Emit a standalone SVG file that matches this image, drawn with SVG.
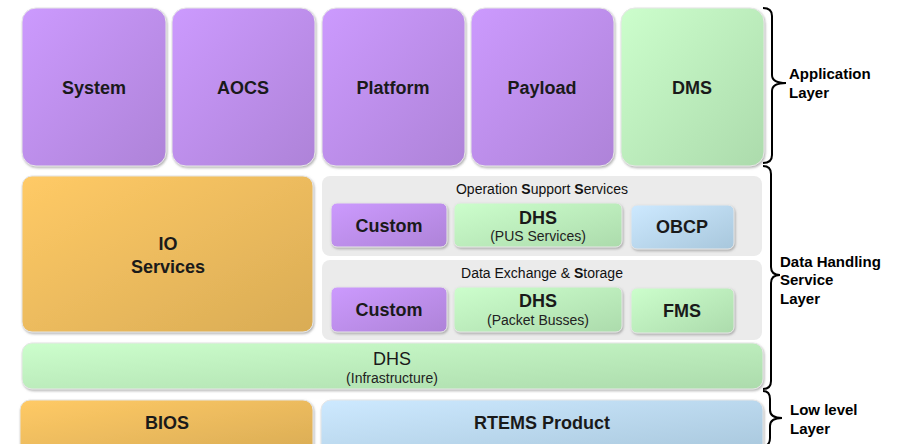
<svg xmlns="http://www.w3.org/2000/svg" width="903" height="444" viewBox="0 0 903 444">
  <defs>
    <linearGradient id="gPurple" x1="0" y1="0" x2="1" y2="1">
      <stop offset="0" stop-color="#cc9afe"/>
      <stop offset="1" stop-color="#ae83d8"/>
    </linearGradient>
    <linearGradient id="gGreen" x1="0" y1="0" x2="1" y2="1">
      <stop offset="0" stop-color="#ccfecc"/>
      <stop offset="1" stop-color="#acdbac"/>
    </linearGradient>
    <linearGradient id="gOrange" x1="0" y1="0" x2="1" y2="1">
      <stop offset="0" stop-color="#ffca66"/>
      <stop offset="1" stop-color="#d9ac55"/>
    </linearGradient>
    <linearGradient id="gBlue" x1="0" y1="0" x2="1" y2="1">
      <stop offset="0" stop-color="#cde9ff"/>
      <stop offset="1" stop-color="#a8c7dc"/>
    </linearGradient>
    <filter id="shadow" x="-5%" y="-5%" width="115%" height="120%">
      <feDropShadow dx="1" dy="1.5" stdDeviation="1" flood-color="#777" flood-opacity="0.55"/>
    </filter>
  </defs>
  <style>
    .box { filter: url(#shadow); stroke: #e6e6e6; stroke-width: 1; }
    .purple { fill: url(#gPurple); }
    .green { fill: url(#gGreen); }
    .orange { fill: url(#gOrange); }
    .blue { fill: url(#gBlue); }
    .panel { fill: #ebebeb; }
    text { font-family: "Liberation Sans", Arial, sans-serif; fill: #1a1a1a; text-anchor: middle; }
    .big { font-size: 18px; font-weight: bold; }
    .reg { font-size: 18px; }
    .sub { font-size: 14px; fill: #222; }
    .cap { font-size: 14px; fill: #111; }
    .layer { font-size: 15px; font-weight: bold; text-anchor: start; fill: #000; }
    .brace { fill: none; stroke: #000; stroke-width: 2; }
  </style>

  <rect width="903" height="444" fill="#ffffff"/>

  <!-- Application layer -->
  <g id="system">
    <rect class="box purple" x="22" y="8" width="144" height="158" rx="14"/>
    <text class="big" x="94" y="94">System</text>
  </g>
  <g id="aocs">
    <rect class="box purple" x="172" y="8" width="143" height="158" rx="14"/>
    <text class="big" x="243" y="94">AOCS</text>
  </g>
  <g id="platform">
    <rect class="box purple" x="322" y="8" width="143" height="158" rx="14"/>
    <text class="big" x="393" y="94">Platform</text>
  </g>
  <g id="payload">
    <rect class="box purple" x="471" y="8" width="143" height="158" rx="14"/>
    <text class="big" x="542" y="94">Payload</text>
  </g>
  <g id="dms">
    <rect class="box green" x="621" y="8" width="143" height="158" rx="14"/>
    <text class="big" x="692" y="94">DMS</text>
  </g>

  <!-- Data handling service layer -->
  <g id="io-services">
    <rect class="box orange" x="22" y="176" width="291" height="156" rx="10"/>
    <text class="big" x="168" y="250">IO</text>
    <text class="big" x="168" y="273">Services</text>
  </g>

  <g id="operation-support">
    <rect class="panel" x="322" y="176" width="440" height="80" rx="8"/>
    <text class="cap" x="542" y="194">Operation <tspan font-weight="bold">S</tspan>upport <tspan font-weight="bold">S</tspan>ervices</text>
  </g>
  <g id="custom-1">
    <rect class="box purple" x="331" y="203" width="116" height="44" rx="6"/>
    <text class="big" x="389" y="232">Custom</text>
  </g>
  <g id="dhs-pus">
    <rect class="box green" x="454" y="203" width="168" height="44" rx="6"/>
    <text class="big" x="538" y="224">DHS</text>
    <text class="sub" x="538" y="241">(PUS Services)</text>
  </g>
  <g id="obcp">
    <rect class="box blue" x="631" y="205" width="103" height="44" rx="6"/>
    <text class="big" x="682" y="233">OBCP</text>
  </g>

  <g id="data-exchange">
    <rect class="panel" x="322" y="260" width="440" height="80" rx="8"/>
    <text class="cap" x="542" y="278">Data Exchange &amp; <tspan font-weight="bold">S</tspan>torage</text>
  </g>
  <g id="custom-2">
    <rect class="box purple" x="331" y="287" width="116" height="45" rx="6"/>
    <text class="big" x="389" y="316">Custom</text>
  </g>
  <g id="dhs-packet">
    <rect class="box green" x="454" y="287" width="168" height="45" rx="6"/>
    <text class="big" x="538" y="307">DHS</text>
    <text class="sub" x="538" y="325">(Packet Busses)</text>
  </g>
  <g id="fms">
    <rect class="box green" x="631" y="288" width="103" height="45" rx="6"/>
    <text class="big" x="682" y="317">FMS</text>
  </g>

  <g id="dhs-infrastructure">
    <rect class="box green" x="22" y="343" width="741" height="46" rx="10"/>
    <text class="reg" x="392" y="365">DHS</text>
    <text class="sub" x="392" y="383">(Infrastructure)</text>
  </g>

  <!-- Low level layer -->
  <g id="bios">
    <rect class="box orange" x="20" y="400" width="293" height="54" rx="10"/>
    <text class="big" x="167" y="429">BIOS</text>
  </g>
  <g id="rtems">
    <rect class="box blue" x="321" y="400" width="442" height="54" rx="10"/>
    <text class="big" x="542" y="429">RTEMS Product</text>
  </g>

  <!-- Layer braces and labels -->
  <g id="connectors">
    <path class="brace" d="M763 8 Q772 8 772 16 L772 75 Q772 83 786 83 Q772 83 772 91 L772 155 Q772 163 763 163"/>
    <path class="brace" d="M763 166 Q771 166 771 174 L771 267 Q771 275 780 275 Q771 275 771 283 L771 381 Q771 389 763 389"/>
    <path class="brace" d="M763 391 Q770 391 770 399 L770 410 Q770 418 782 418 Q770 418 770 426 L770 438 Q770 446 763 446"/>
  </g>

  <g id="labels">
    <text class="layer" x="789" y="79">Application</text>
    <text class="layer" x="789" y="98">Layer</text>
    <text class="layer" x="780" y="267">Data Handling</text>
    <text class="layer" x="780" y="285">Service</text>
    <text class="layer" x="780" y="304">Layer</text>
    <text class="layer" x="790" y="415">Low level</text>
    <text class="layer" x="790" y="434">Layer</text>
  </g>
</svg>
